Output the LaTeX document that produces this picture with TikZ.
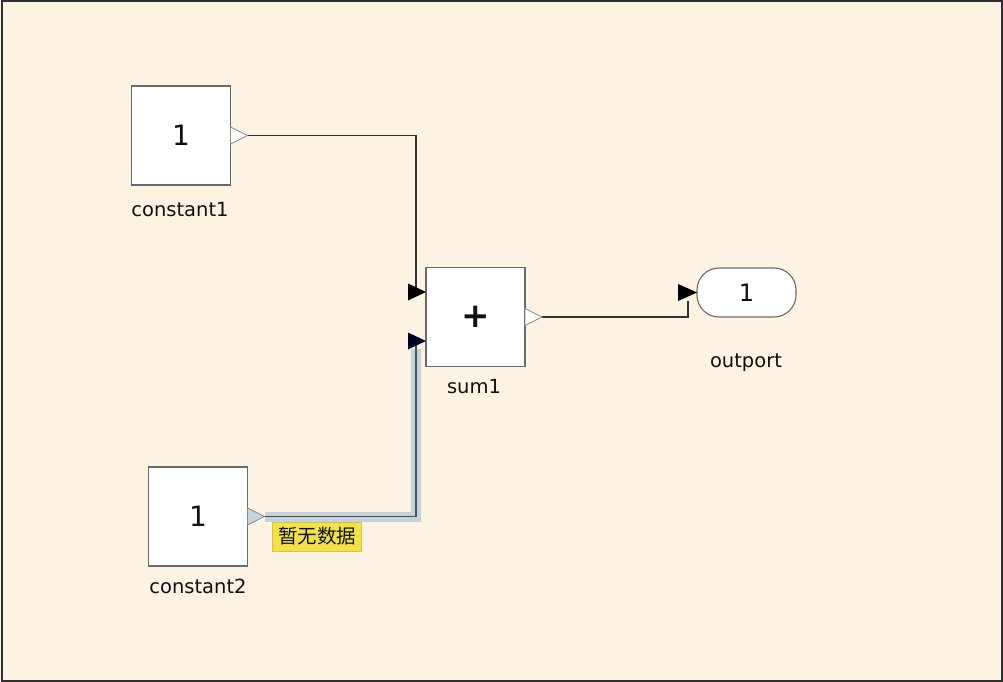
\documentclass[tikz,border=0pt]{standalone}
\usepackage{fontspec}
\setmainfont{DejaVu Sans}
\newfontfamily\cjk{Noto Sans CJK SC}
\usetikzlibrary{calc}
\definecolor{bg}{HTML}{FDF3E2}
\definecolor{frameclr}{HTML}{303030}
\definecolor{blkline}{HTML}{6A6A6A}
\definecolor{wireclr}{HTML}{333333}
\definecolor{haloclr}{HTML}{C6D1D9}
\definecolor{coreclr}{HTML}{46525F}
\definecolor{tipfill}{HTML}{F3E14A}
\definecolor{tipline}{HTML}{D9C24A}
\definecolor{hiport}{HTML}{C8D4E0}
\definecolor{txt}{HTML}{101010}
\tikzset{
  blk/.style={draw=blkline, line width=1.1pt, fill=white, minimum width=99pt, minimum height=99pt, inner sep=0pt, outer sep=0pt, text=txt, font=\fontsize{28}{28}\selectfont},
  outblk/.style={draw=blkline, line width=1.1pt, fill=white, rounded corners=22pt, minimum width=99pt, minimum height=49pt, inner sep=0pt, outer sep=0pt, text=txt, font=\fontsize{24}{24}\selectfont},
  lbl/.style={text=txt, font=\fontsize{19.5}{19.5}\selectfont, inner sep=0pt},
  wire/.style={draw=wireclr, line width=1.2pt},
  halo/.style={draw=haloclr, line width=10pt},
  core/.style={draw=coreclr, line width=1.8pt},
  oport/.style={draw=blkline!80, line width=0.8pt, fill=white},
  iarrow/.style={fill=black},
  tipbox/.style={draw=tipline, line width=0.8pt, fill=tipfill, minimum width=89pt, minimum height=29pt, inner sep=0pt, text=txt, font=\cjk\fontsize{19.5}{19.5}\selectfont}
}
\begin{document}
\begin{tikzpicture}[x=1pt,y=-1pt]
\fill[bg] (0,0) rectangle (1003,682);
\useasboundingbox (0,0) rectangle (1003,682);
\draw[frameclr, line width=2pt] (1.5,1) rectangle (1002,681);

% blocks
\node[blk] (c1) at (181,135.5) {1};
\node[blk] (c2) at (198,516.5) {1};
\node[blk, font=\fontsize{34}{34}\selectfont\bfseries] (sum) at (475.5,317) {+};
\node[outblk] (out) at (746.5,292.5) {1};

% labels
\node[lbl] (c1l) at (180,210) {constant1};
\node[lbl] (c2l) at (198,586) {constant2};
\node[lbl] (suml) at (474,387) {sum1};
\node[lbl] (outl) at (746,363) {outport};

% port coordinates
\coordinate (c1o) at (c1.east);
\coordinate (c1t) at ($(c1.east)+(17,0)$);
\coordinate (c2o) at (c2.east);
\coordinate (c2t) at ($(c2.east)+(17,0)$);
\coordinate (so) at (sum.east);
\coordinate (st) at ($(sum.east)+(17,0)$);
\coordinate (in1) at ($(sum.west)+(0,-25)$);
\coordinate (in2) at ($(sum.west)+(0,24)$);
\coordinate (oin) at ($(out.west)+(0,0)$);

% highlighted connector (constant2 -> sum1 input 2)
\draw[halo, yshift=2.5pt] (c2t) -| ($(in2)+(-10,8)$);
\draw[core] (c2t) -| ($(in2)+(-10,0)$);

% plain connectors
\draw[wire] (c1t) -| ($(in1)+(-10,0)$);
\draw[wire] (st) -| ($(oin)+(-9,8)$);

% output port triangles
\draw[oport] (c1o) ++(0,-8.5) -- (c1t) -- ($(c1o)+(0,8.5)$) -- cycle;
\draw[oport, fill=hiport] (c2o) ++(0,-8.5) -- (c2t) -- ($(c2o)+(0,8.5)$) -- cycle;
\draw[oport] (so) ++(0,-8.5) -- (st) -- ($(so)+(0,8.5)$) -- cycle;

% input arrowheads
\fill[iarrow] (in1) -- ++(-18,-8.5) -- ++(0,17) -- cycle;
\fill[iarrow, fill=black!85!blue] (in2) -- ++(-18,-8.5) -- ++(0,17) -- cycle;
\fill[iarrow] (oin) -- ++(-19,-8.5) -- ++(0,17) -- cycle;

% tooltip
\node[tipbox] (tip) at (317,536.5) {暂无数据};
\end{tikzpicture}
\end{document}
